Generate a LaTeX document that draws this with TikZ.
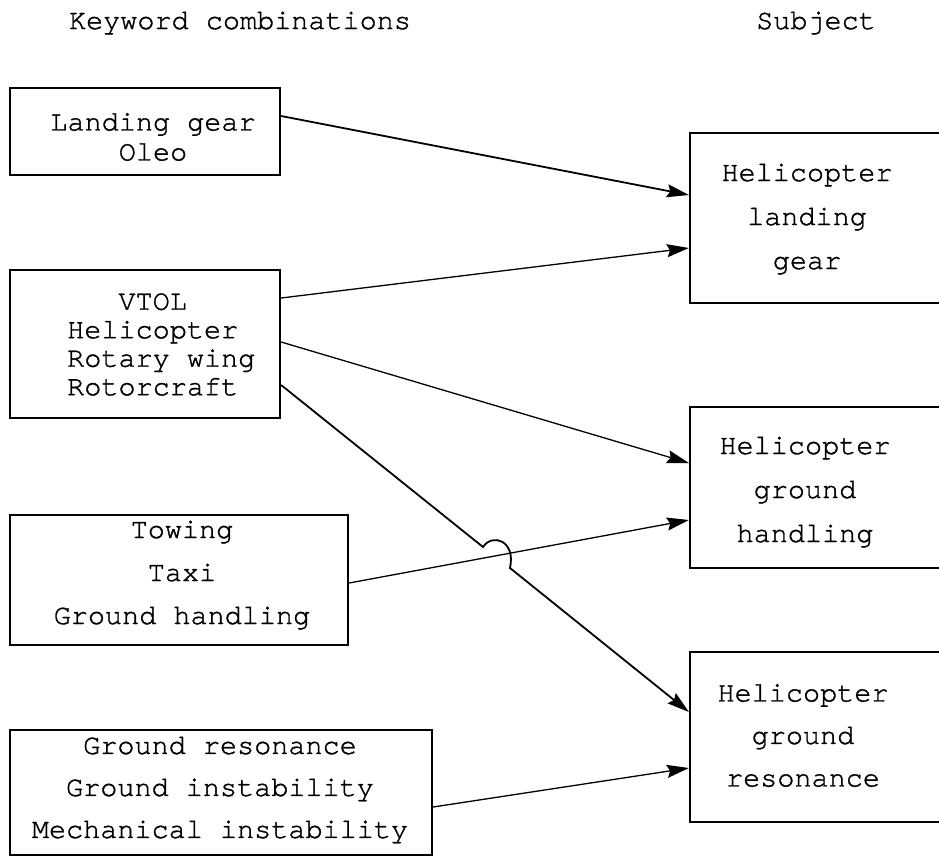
\documentclass[tikz,border=0pt]{standalone}
\usepackage{fontspec}
\newfontfamily\mono[FakeBold=1.2]{TeX Gyre Cursor}
\usetikzlibrary{arrows.meta}
\begin{document}
\begin{tikzpicture}[x=1pt,y=-1pt,
  boxnode/.style={draw,line width=2.2pt,minimum width=#1,inner sep=0pt},
  txt/.style={font=\mono\fontsize{28.5}{43}\selectfont,align=center,inner sep=0pt},
  head/.style={font=\mono\fontsize{28.5}{30}\selectfont,inner sep=0pt},
  conn/.style={line width=1.3pt,-{Stealth[length=22pt,width=13pt,inset=3pt]}},
  thick conn/.style={conn,line width=1.8pt}]
\useasboundingbox (0,0) rectangle (939,860);
\clip (0,0) rectangle (939,860);
% headers
\node[head] (h1) at (240,23) {Keyword combinations};
\node[head] (h2) at (816,23) {Subject};
% left boxes
\node[boxnode=270pt,minimum height=87pt] (k1) at (145,131.5) {};
\node[txt,font=\mono\fontsize{28.5}{30}\selectfont] (k1t) at (153,137) {Landing gear\\Oleo};
\node[boxnode=270pt,minimum height=148pt] (k2) at (145,344) {};
\node[txt,align=left,anchor=west,font=\mono\fontsize{28.5}{28.5}\selectfont] (k2t) at (67,344.5) {\phantom{xxx}VTOL\\Helicopter\\Rotary wing\\Rotorcraft};
\node[boxnode=338pt,minimum height=130pt] (k3) at (179,580) {};
\node[txt] (k3t) at (182,575) {Towing\\Taxi\\Ground handling};
\node[boxnode=422pt,minimum height=125pt] (k4) at (221,792.5) {};
\node[txt,font=\mono\fontsize{28.5}{42}\selectfont] (k4t) at (220,790) {Ground resonance\\Ground instability\\Mechanical instability};
% right boxes
\node[boxnode=255pt,minimum height=170pt] (sa) at (817.5,218) {};
\node[txt,font=\mono\fontsize{28.5}{44}\selectfont] (sat) at (807,219) {Helicopter\\landing\\gear};
\node[boxnode=255pt,minimum height=161pt] (sb) at (817.5,487.5) {};
\node[txt,font=\mono\fontsize{28.5}{44}\selectfont] (sbt) at (805,492) {Helicopter\\ground\\handling};
\node[boxnode=255pt,minimum height=170pt] (sc) at (817.5,737) {};
\node[txt,font=\mono\fontsize{28.5}{42.5}\selectfont] (sct) at (803,735.5) {Helicopter\\ground\\resonance};
% hop coordinates
\coordinate (hopA) at (483,547);
\coordinate (hopB) at (510,568);
% connectors
\draw[thick conn] ([yshift=15.5pt]k1.east) -- ([yshift=23pt]sa.west);
\draw[conn] ([yshift=46pt]k2.east) -- ([yshift=-30pt]sa.west);
\draw[conn] ([yshift=2pt]k2.east) -- ([yshift=24.5pt]sb.west);
\draw[thick conn] ([yshift=-41pt]k2.east) -- (hopA) .. controls (492,533) and (516,540) .. (hopB) -- ([yshift=25pt]sc.west);
\draw[conn] ([yshift=-3pt]k3.east) -- ([yshift=-32.5pt]sb.west);
\draw[conn] ([yshift=-14.5pt]k4.east) -- ([yshift=-31pt]sc.west);
\end{tikzpicture}
\end{document}
